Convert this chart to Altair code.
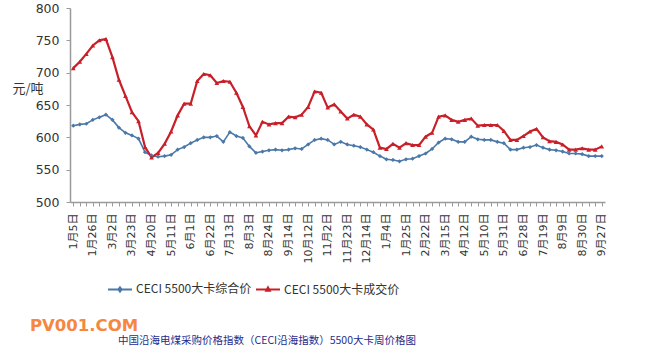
import json
import altair as alt
import pandas as pd

# ---- data -------------------------------------------------------------
dates = [
    "1月5日", "1月12日", "1月19日", "1月26日", "2月2日", "2月9日", "3月2日", "3月9日",
    "3月16日", "3月23日", "3月30日", "4月13日", "4月20日", "4月27日", "5月4日", "5月11日",
    "5月18日", "5月25日", "6月1日", "6月8日", "6月15日", "6月22日", "6月29日", "7月6日",
    "7月13日", "7月20日", "7月27日", "8月3日", "8月10日", "8月17日", "8月24日", "8月31日",
    "9月7日", "9月14日", "9月21日", "9月28日", "10月12日", "10月19日", "10月26日", "11月2日",
    "11月9日", "11月16日", "11月23日", "11月30日", "12月7日", "12月14日", "12月21日", "12月28日",
    "1月4日", "1月11日", "1月18日", "1月25日", "2月1日", "2月15日", "2月22日", "3月1日",
    "3月8日", "3月15日", "3月22日", "3月29日", "4月12日", "4月19日", "4月26日", "5月10日",
    "5月17日", "5月24日", "5月31日", "6月14日", "6月21日", "6月28日", "7月5日", "7月12日",
    "7月19日", "7月26日", "8月2日", "8月9日", "8月16日", "8月23日", "8月30日", "9月6日",
    "9月20日", "9月27日",
]

composite = [
    618, 620, 621, 627, 631, 635, 627, 615, 607, 603, 598, 577, 572, 570, 571, 573,
    581, 585, 591, 596, 600, 600, 602, 593, 608, 602, 599, 586, 576, 578, 580, 581,
    580, 581, 583, 582, 589, 596, 598, 596, 589, 593, 589, 587, 585, 581, 577, 571,
    566, 565, 563, 566, 567, 571, 575, 582, 592, 598, 597, 593, 593, 601, 597, 596,
    596, 593, 591, 581, 581, 584, 585, 588, 584, 581, 580, 578, 575, 575, 574, 571,
    571, 571,
]

deal = [
    707, 717, 729, 742, 750, 752, 724, 689, 664, 639, 625, 585, 569, 576, 590, 609,
    634, 652, 652, 687, 698, 696, 684, 687, 686, 669, 647, 617, 603, 624, 620, 622,
    622, 632, 631, 635, 647, 671, 669, 646, 651, 640, 629, 635, 632, 620, 612, 584,
    582, 590, 584, 591, 588, 588, 601, 607, 632, 634, 627, 624, 627, 629, 618, 619,
    619, 619, 610, 596, 596, 602, 609, 613, 600, 594, 593, 589, 581, 581, 583, 581,
    581, 586,
]

series_names = ["CECI 5500大卡综合价", "CECI 5500大卡成交价"]
y_ticks = [500, 550, 600, 650, 700, 750, 800]
shown_labels = dates[::3]
title_text = "中国沿海电煤采购价格指数（CECI沿海指数）5500大卡周价格图"
watermark = ["PV001.COM"]

# ---- table ------------------------------------------------------------
rows = []
for i, d in enumerate(dates):
    rows.append({"date": d, "series": series_names[0], "value": composite[i]})
    rows.append({"date": d, "series": series_names[1], "value": deal[i]})
df = pd.DataFrame(rows)

BLUE = "#4a78a8"
RED = "#c8202a"
FONT = "Noto Sans CJK SC"
NUMFONT = "DejaVu Sans, Noto Sans CJK SC"
AXC = "#9a9a9a"
TXT = "#333333"

label_expr = "indexof(" + json.dumps(shown_labels, ensure_ascii=False) + ", datum.value) >= 0 ? datum.value : ''"

x_enc = alt.X(
    "date:N",
    sort=dates,
    scale=alt.Scale(type="point", padding=0.5),
    axis=alt.Axis(
        title=None, labelAngle=-90, labelExpr=label_expr, labelOverlap=False,
        labelFont=NUMFONT, labelFontSize=11, labelColor=TXT, labelPadding=7,
        tickSize=4, tickColor=AXC, domainColor=AXC, domainWidth=1.5, grid=False,
    ),
)
y_enc = alt.Y(
    "value:Q",
    scale=alt.Scale(domain=[500, 800], nice=False, zero=False),
    axis=alt.Axis(
        values=y_ticks, title="元/吨", titleAngle=0, titleX=-58, titleY=80,
        titleAlign="left", titleBaseline="middle", titleFontWeight="normal",
        titleFont=FONT, titleFontSize=13, titleColor=TXT,
        labelFont=NUMFONT, labelFontSize=12.5, labelColor=TXT, labelPadding=7,
        tickSize=4, tickColor=AXC, domainColor=AXC, domainWidth=1.5, grid=False,
    ),
)

base = alt.Chart(df)

blue_line = base.transform_filter(alt.datum.series == series_names[0]).mark_line(
    color=BLUE, strokeWidth=1.6).encode(x=x_enc, y=y_enc)
red_line = base.transform_filter(alt.datum.series == series_names[1]).mark_line(
    color=RED, strokeWidth=2.2).encode(x=x_enc, y=y_enc)
blue_pts = base.transform_filter(alt.datum.series == series_names[0]).mark_point(
    shape="diamond", filled=True, color=BLUE, size=18, opacity=1).encode(x=x_enc, y=y_enc)
red_pts = base.transform_filter(alt.datum.series == series_names[1]).mark_point(
    shape="triangle-up", filled=True, color=RED, size=22, opacity=1).encode(x=x_enc, y=y_enc)

# legend-only layer (draws nothing, provides line+marker legend symbols)
legend_props = dict(
    orient="none", legendX=37, legendY=268, direction="horizontal",
    title=None, symbolSize=576, symbolStrokeWidth=2,
    labelFont=FONT, labelFontSize=12, labelColor=TXT,
    labelOffset=3, columnPadding=0,
)
legend_df = pd.DataFrame({"series": series_names})
legend_layer = alt.Chart(legend_df).transform_filter("false").mark_point(
    filled=False, strokeWidth=2, opacity=1
).encode(
    color=alt.Color("series:N", scale=alt.Scale(domain=series_names, range=[BLUE, RED]),
                    legend=alt.Legend(**legend_props)),
    shape=alt.Shape("series:N", scale=alt.Scale(
        domain=series_names,
        range=["M-1,0L1,0M-0.13,0L0,-0.17L0.13,0L0,0.17Z",
               "M-1,0L1,0M0,-0.17L0.15,0.11L-0.15,0.11Z"]),
        legend=alt.Legend(**legend_props)),
)

wm_layer = alt.Chart(pd.DataFrame({"t": watermark})).mark_text(
    align="left", baseline="middle", fontSize=16.5, fontWeight="bold",
    color="#f5873f", font="DejaVu Sans"
).encode(text="t:N", x=alt.value(-40), y=alt.value(318))

chart = alt.layer(
    blue_line, red_line, blue_pts, red_pts, legend_layer, wm_layer
).properties(
    width=535, height=194,
    padding={"left": 70, "top": 8, "right": 40, "bottom": 151},
    autosize=alt.AutoSizeParams(type="none"),
    title=alt.TitleParams(
        text=title_text, orient="top", anchor="start", frame="group",
        dx=48, dy=349, offset=0, baseline="middle",
        font=FONT, fontSize=10.5, fontWeight="normal", color="#1f2d8a",
    ),
    background="white",
).configure_view(stroke=None)

chart.save("out.html", embed_options={"renderer": "svg", "actions": False})
